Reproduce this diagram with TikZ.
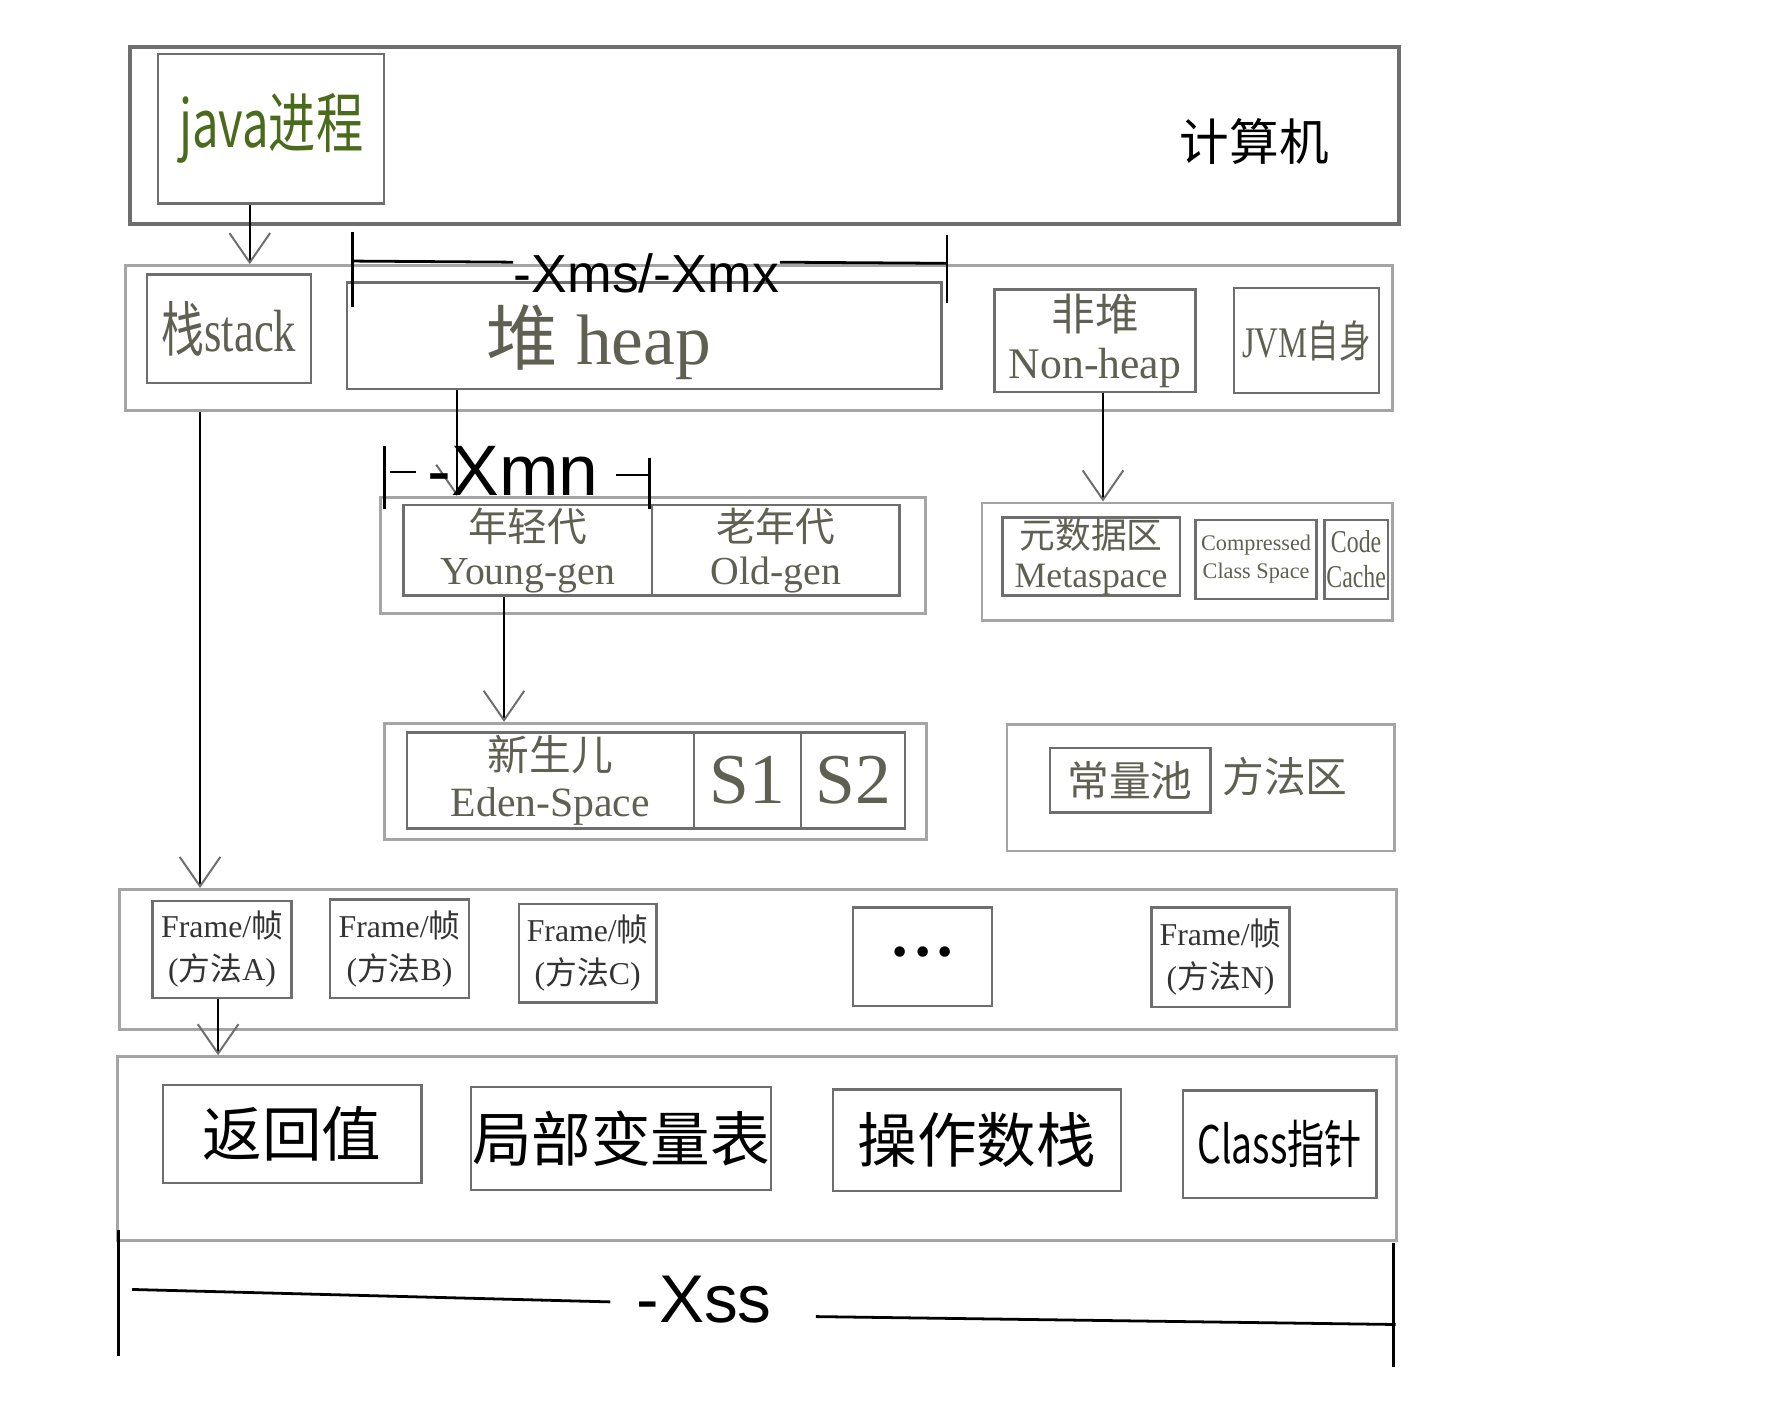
\documentclass[tikz,border=0pt]{standalone}
\usepackage{fontspec}
\setmainfont{Liberation Serif}
\setsansfont{Liberation Sans}
\newfontfamily\zh{Noto Sans CJK SC}
\newfontfamily\zhc[FakeStretch=0.72]{Noto Sans CJK SC}
\newfontfamily\rmc[FakeStretch=0.75]{Liberation Serif}
\usetikzlibrary{arrows.meta}
\definecolor{boxgray}{RGB}{110,110,110}
\definecolor{outergray}{RGB}{165,165,165}
\definecolor{txtgray}{RGB}{95,95,82}
\definecolor{javagreen}{RGB}{74,106,28}
\newcommand{\fsz}[1]{\fontsize{#1}{\fpeval{1.1*#1}}\selectfont}

\begin{document}
\begin{tikzpicture}[
    box/.style={draw=boxgray, line width=0.6pt, inner sep=0pt, align=center},
    outer/.style={draw=outergray, line width=0.7pt, inner sep=0pt},
    sz/.style 2 args={minimum width=#1cm, minimum height=#2cm},
    gtxt/.style={text=txtgray},
    arr/.style={line width=0.5pt, -{Straight Barb[length=2.6mm, width=3.6mm, line width=0.5pt, color=boxgray]}},
    bar/.style={line width=0.7pt}
  ]
  \useasboundingbox (0,0) rectangle (15.68,-12.41);

  % computer and java process
  \node[box, sz={11.23}{1.56}, line width=1pt] (comp) at (6.765,-1.20) {};
  \node[box, sz={2.0}{1.32}, text=javagreen, font=\zhc\fsz{16.5}] (java) at (2.40,-1.14) {java进程};
  \node[font=\zh\fsz{12.5}] (pc) at (11.10,-1.25) {计算机};

  % stack / heap / non-heap
  \node[outer, sz={11.21}{1.28}] (row) at (6.715,-2.99) {};
  \node[box, sz={1.45}{0.96}, gtxt, font=\fsz{15}] (stack) at (2.025,-2.91) {{\zhc 栈}{\rmc stack}};
  \node[box, sz={5.26}{0.94}, gtxt] (heap) at (5.70,-2.97) {};
  \node[gtxt, font=\fsz{18}, inner sep=0pt] (heaptxt) at (5.30,-3.03) {{\zh 堆}~heap};
  \node[box, sz={1.78}{0.91}, gtxt, font=\fsz{11}] (nonheap) at (9.69,-3.015) {{\zh 非堆}\\Non-heap};
  \node[box, sz={1.28}{0.93}, gtxt, font=\fsz{11}] (jvm) at (11.56,-3.015) {{\rmc JVM}{\zhc 自身}};
  \draw[arr] ([xshift=-0.19cm]java.south) -- ([xshift=-0.19cm]java.south |- row.north);

  % -Xms/-Xmx
  \node[font=\sffamily\fsz{13.5}, inner sep=0pt] (xms) at (5.72,-2.42) {-Xms/-Xmx};
  \coordinate (xmsl) at (3.12,-2.31);
  \coordinate (xmsr) at (8.38,-2.33);
  \draw[bar] (3.12,-2.05) -- (3.12,-2.72);
  \draw[bar] (8.38,-2.08) -- (8.38,-2.68);
  \draw[bar] (xmsl) -- ([yshift=0.1cm]xms.west);
  \draw[bar] ([yshift=0.1cm]xms.east) -- (xmsr);

  % young / old
  \node[outer, sz={4.82}{1.03}] (young) at (5.78,-4.915) {};
  \node[box, sz={2.20}{0.80}, gtxt, font=\fsz{10}] (younggen) at (4.67,-4.87) {{\zh 年轻代}\\Young-gen};
  \node[box, sz={2.19}{0.80}, gtxt, font=\fsz{10}] (oldgen) at (6.865,-4.87) {{\zh 老年代}\\Old-gen};
  \draw[arr] ([xshift=-1.66cm]heap.south) -- ([xshift=-1.66cm]heap.south |- young.north);

  % -Xmn
  \node[font=\sffamily\fsz{18}, inner sep=0pt] (xmn) at (4.54,-4.17) {-Xmn};
  \draw[bar] (3.40,-3.95) -- (3.40,-4.50);
  \draw[bar] (5.75,-4.05) -- (5.75,-4.50);
  \draw[line width=0.5pt] (3.45,-4.18) -- (3.68,-4.18);
  \draw[line width=0.5pt] (5.45,-4.20) -- (5.75,-4.20);

  % eden / survivor
  \node[outer, sz={4.80}{1.03}] (eden) at (5.80,-6.915) {};
  \node[box, sz={2.54}{0.85}, gtxt, font=\fsz{10.5}] (edenspace) at (4.87,-6.905) {{\zh 新生儿}\\Eden-Space};
  \node[box, sz={0.95}{0.85}, gtxt, font=\fsz{18}] (s1) at (6.615,-6.905) {S1};
  \node[box, sz={0.92}{0.85}, gtxt, font=\fsz{18}] (s2) at (7.55,-6.905) {S2};
  \draw[arr] ([xshift=-0.21cm]younggen.south) -- ([xshift=-0.21cm]younggen.south |- eden.north);

  % metaspace
  \node[outer, sz={3.63}{1.04}] (meta) at (10.505,-4.97) {};
  \node[box, sz={1.57}{0.69}, gtxt, font=\fsz{9}] (metaspace) at (9.655,-4.925) {{\zh 元数据区}\\Metaspace};
  \node[box, sz={1.07}{0.70}, gtxt, font=\fsz{5.6}] (ccs) at (11.115,-4.95) {Compressed\\[1pt]Class Space};
  \node[box, sz={0.56}{0.70}, gtxt, font=\rmc\fsz{8}] (codecache) at (12.00,-4.95) {Code\\Cache};
  \draw[arr] ([xshift=0.07cm]nonheap.south) -- ([xshift=0.07cm]nonheap.south |- meta.north);

  % method area
  \node[outer, sz={3.43}{1.12}] (method) at (10.625,-6.97) {};
  \node[box, sz={1.42}{0.57}, gtxt, font=\zh\fsz{10.5}] (pool) at (10.00,-6.905) {常量池};
  \node[gtxt, font=\zh\fsz{10.5}] (methodtxt) at (11.37,-6.87) {方法区};

  % frames
  \node[outer, sz={11.30}{1.24}] (frames) at (6.71,-8.49) {};
  \node[box, sz={1.23}{0.86}, text=black!80, font=\fsz{8}] (fa) at (1.965,-8.40) {Frame/{\zh 帧}\\[2pt]({\zh 方法}A)};
  \node[box, sz={1.23}{0.87}, text=black!80, font=\fsz{8}] (fb) at (3.535,-8.395) {Frame/{\zh 帧}\\[2pt]({\zh 方法}B)};
  \node[box, sz={1.22}{0.87}, text=black!80, font=\fsz{8}] (fc) at (5.20,-8.435) {Frame/{\zh 帧}\\[2pt]({\zh 方法}C)};
  \node[box, sz={1.23}{0.87}, font=\fsz{11}] (fdots) at (8.165,-8.465) {\textbullet\,\textbullet\,\textbullet};
  \node[box, sz={1.22}{0.88}, text=black!80, font=\fsz{8}] (fn) at (10.80,-8.47) {Frame/{\zh 帧}\\[2pt]({\zh 方法}N)};
  \draw[arr] ([xshift=-0.255cm]stack.south |- row.south) -- ([xshift=-0.255cm]stack.south |- frames.north);

  % frame content
  \node[outer, sz={11.32}{1.63}] (content) at (6.70,-10.165) {};
  \node[box, sz={2.29}{0.87}, font=\zh\fsz{15}] (ret) at (2.585,-10.035) {返回值};
  \node[box, sz={2.65}{0.91}, font=\zh\fsz{15}] (locals) at (5.495,-10.075) {局部变量表};
  \node[box, sz={2.55}{0.90}, font=\zh\fsz{15}] (opstack) at (8.645,-10.09) {操作数栈};
  \node[box, sz={1.71}{0.95}, font=\zhc\fsz{13}] (classptr) at (11.325,-10.125) {Class指针};
  \draw[arr] ([xshift=-0.035cm]fa.south) -- ([xshift=-0.035cm]fa.south |- content.north);

  % -Xss
  \node[font=\sffamily\fsz{17}, inner sep=1pt] (xss) at (6.23,-11.50) {-Xss};
  \draw[bar] (1.05,-10.88) -- (1.05,-12.00);
  \draw[bar] (12.33,-11.00) -- (12.33,-12.10);
  \draw[bar] (1.17,-11.41) -- (5.40,-11.52);
  \draw[bar] (7.22,-11.65) -- (12.35,-11.72);
\end{tikzpicture}
\end{document}
